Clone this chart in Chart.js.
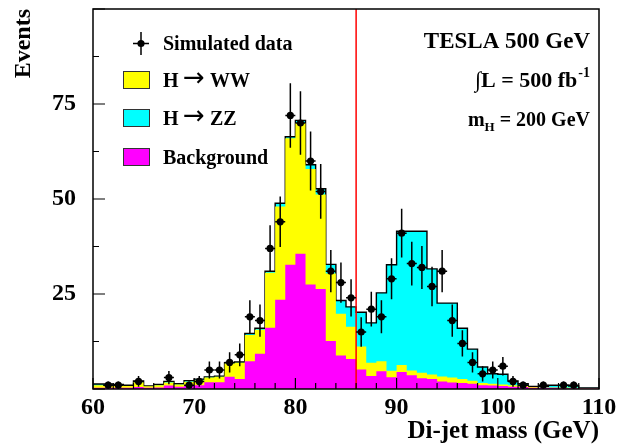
<!DOCTYPE html>
<html>
<head>
<meta charset="utf-8">
<script src="https://cdn.jsdelivr.net/npm/chart.js@4.4.1/dist/chart.umd.min.js"></script>
<style>
  html, body { margin: 0; padding: 0; background: #fff; }
  #wrap { width: 629px; height: 447px; }
</style>
</head>
<body>
<div id="wrap"><canvas id="chart"></canvas></div>
<script>
// histogram binning: 1 GeV bins from 60 to 110
const binLow = 60;
const binWidth = 1;

// events per bin (each process on its own, stacked later)
const background = [0.3, 0.3, 0.3, 0.3, 0.5, 0.3, 0.4, 0.9, 0.6, 0.8,
                    1.0, 1.8, 1.8, 3.2, 2.6, 7.3, 9.3, 16.1, 23.5, 32.7,
                    35.6, 27.5, 26.3, 12.6, 8.8, 7.9, 5.1, 3.4, 4.7, 3.1,
                    4.5, 3.6, 2.8, 2.6, 2.0, 1.7, 1.6, 1.4, 1.0, 0.9,
                    0.8, 0.6, 0.5, 0.3, 0.3, 0.3, 0.2, 0.2, 0.1, 0.1];
const higgsWW = [0.7, 0.7, 0.6, 0.5, 1.3, 0.4, 0.6, 0.8, 0.6, 1.1,
                 1.3, 1.2, 1.4, 3.5, 4.3, 6.9, 6.3, 14.5, 24.5, 33.3,
                 34.4, 30.4, 24.9, 17.8, 11.0, 8.5, 6.1, 3.5, 2.6, 1.7,
                 1.8, 1.3, 1.5, 1.2, 1.3, 1.3, 1.0, 0.8, 0.6, 0.5,
                 0.4, 0.4, 0.3, 0.2, 0.1, 0.1, 0.2, 0.1, 0.1, 0.1];
const higgsZZ = [0.3, 0.3, 0.3, 0.2, 0.3, 0.1, 0.2, 0.3, 0.2, 0.3,
                 0.3, 0.2, 0.2, 0.2, 0.2, 0.4, 0.4, 0.4, 0.9, 0.4,
                 0.7, 1.1, 1.5, 2.4, 3.5, 5.2, 9.0, 10.5, 18.0, 27.9,
                 35.2, 36.6, 37.2, 27.8, 19.3, 19.6, 13.4, 8.3, 4.2, 2.6,
                 2.7, 1.1, 0.6, 0.2, 0.3, 0.6, 0.6, 0.5, 0.1, 0.1];
// simulated data counts (null = empty bin)
const dataCounts = [null, 1, 1, null, 2, null, null, 3, null, 1,
                    2, 5, 5, 7, 9, 19, 18, 37, 44, 72,
                    70, 60, 52, 31, 28, 24, 15, 21, 19, 29,
                    41, 33, 32, 27, 31, 18, 12, 7, 4, 5,
                    6, 2, 1, null, 1, null, 1, 1, null, null];

const xTickValues = [60, 70, 80, 90, 100, 110];
const yTickValues = [25, 50, 75];
const cutMass = 86;

const nBins = background.length;
const edges = Array.from({length: nBins + 1}, (_, i) => binLow + i * binWidth);
const centers = edges.slice(0, nBins).map(e => e + binWidth / 2);

const stackBg = background.slice();
const stackWW = stackBg.map((v, i) => v + higgsWW[i]);
const stackAll = stackWW.map((v, i) => v + higgsZZ[i]);

// one point per bin edge; with stepped 'before' each bin keeps its own level
function histPoints(vals) {
  return edges.map((e, i) => ({x: e, y: vals[Math.min(i, nBins - 1)]}));
}

const serif = size => `bold ${size}px "Liberation Serif", "Times New Roman", serif`;
const colours = {bg: '#ff00ff', ww: '#ffff00', zz: '#00ffff'};

const errorBars = {
  id: 'errorBars',
  afterDatasetsDraw(chart) {
    const {ctx, chartArea, scales: {x, y}} = chart;
    ctx.save();
    // cut line
    ctx.strokeStyle = '#ff0000';
    ctx.lineWidth = 1.5;
    const cx = x.getPixelForValue(cutMass);
    ctx.beginPath();
    ctx.moveTo(cx, chartArea.top);
    ctx.lineTo(cx, chartArea.bottom);
    ctx.stroke();
    // data error bars
    ctx.strokeStyle = '#000';
    ctx.lineWidth = 1.5;
    dataCounts.forEach((n, i) => {
      if (n == null) return;
      const px = x.getPixelForValue(centers[i]);
      const err = Math.sqrt(n);
      ctx.beginPath();
      ctx.moveTo(px, y.getPixelForValue(n + err));
      ctx.lineTo(px, y.getPixelForValue(Math.max(0, n - err)));
      ctx.moveTo(px - 5, y.getPixelForValue(n));
      ctx.lineTo(px + 5, y.getPixelForValue(n));
      ctx.stroke();
    });
    ctx.restore();
  }
};

const frameAndText = {
  id: 'frameAndText',
  afterDraw(chart) {
    const {ctx, chartArea: a, scales: {x, y}} = chart;
    ctx.save();
    ctx.strokeStyle = '#000';
    ctx.lineWidth = 1.5;
    ctx.strokeRect(a.left, a.top, a.right - a.left, a.bottom - a.top);
    // inward ticks
    ctx.lineWidth = 1.2;
    ctx.beginPath();
    for (let v = x.min; v <= x.max; v += 2) {
      const px = x.getPixelForValue(v);
      const len = v % 10 === 0 ? 11 : 6;
      ctx.moveTo(px, a.bottom);
      ctx.lineTo(px, a.bottom - len);
    }
    for (let v = y.min; v <= y.max; v += 12.5) {
      const py = y.getPixelForValue(v);
      const len = v % 25 === 0 ? 12 : 6;
      ctx.moveTo(a.left, py);
      ctx.lineTo(a.left + len, py);
    }
    ctx.stroke();

    // legend
    ctx.fillStyle = '#000';
    ctx.lineWidth = 1.5;
    ctx.beginPath();
    ctx.moveTo(133, 43.5); ctx.lineTo(149, 43.5);
    ctx.moveTo(141, 32); ctx.lineTo(141, 55);
    ctx.stroke();
    ctx.beginPath();
    ctx.arc(141, 43.5, 3.6, 0, Math.PI * 2);
    ctx.fill();

    const entries = [
      {label: 'Background', colour: colours.bg, top: 148},
      {label: 'H \u2192 WW', decay: 'WW', colour: colours.ww, top: 71},
      {label: 'H \u2192 ZZ', decay: 'ZZ', colour: colours.zz, top: 109}
    ];
    ctx.lineWidth = 1;
    ctx.strokeStyle = '#333';
    entries.forEach(e => {
      ctx.fillStyle = e.colour;
      ctx.fillRect(123, e.top, 26, 17);
      ctx.strokeRect(123.5, e.top + 0.5, 26, 17);
    });
    ctx.fillStyle = '#000';
    ctx.textAlign = 'left';
    ctx.textBaseline = 'alphabetic';
    ctx.font = serif(20);
    ctx.fillText('Simulated data', 163, 50);
    entries.forEach(e => {
      const base = e.top + 16;
      if (!e.decay) { ctx.font = serif(20); ctx.fillText(e.label, 163, base); return; }
      ctx.font = serif(20);
      ctx.fillText('H', 163, base);
      ctx.font = '26px "DejaVu Sans", sans-serif';
      ctx.fillText('\u2192', 183, base - 1);
      ctx.font = serif(20);
      ctx.fillText(e.decay, 210, base);
    });

    // top-right labels
    const rx = 590;
    ctx.textAlign = 'right';
    ctx.font = serif(23);
    ctx.fillText('TESLA 500 GeV', rx, 48);

    ctx.font = serif(14);
    const supW = ctx.measureText('-1').width;
    ctx.textAlign = 'left';
    ctx.fillText('-1', rx - supW, 77);
    ctx.font = serif(22);
    ctx.textAlign = 'right';
    ctx.fillText('\u222BL = 500 fb', rx - supW - 1, 87);

    ctx.font = serif(20);
    ctx.fillText(' = 200 GeV', rx, 126);
    const restW = ctx.measureText(' = 200 GeV').width;
    ctx.font = serif(13);
    const subW = ctx.measureText('H').width;
    ctx.fillText('H', rx - restW, 131);
    ctx.font = serif(20);
    ctx.fillText('m', rx - restW - subW, 126);
    ctx.restore();
  }
};

const fillDs = (label, vals, colour, order) => ({
  label: label,
  data: histPoints(vals),
  stepped: 'before',
  fill: 'origin',
  backgroundColor: colour,
  borderColor: 'rgba(0,0,0,0)',
  borderWidth: 0,
  pointRadius: 0,
  order: order
});

const totalDs = fillDs('H \u2192 ZZ', stackAll, colours.zz, 3);
totalDs.borderColor = '#000';
totalDs.borderWidth = 1.4;

const axisFont = size => ({family: '"Liberation Serif", "Times New Roman", serif', weight: 'bold', size: size});

new Chart(document.getElementById('chart'), {
  type: 'line',
  data: {
    datasets: [
      fillDs('Background', stackBg, colours.bg, 1),
      fillDs('H \u2192 WW', stackWW, colours.ww, 2),
      totalDs,
      {
        type: 'scatter',
        label: 'Simulated data',
        data: centers.map((c, i) => ({x: c, y: dataCounts[i]})).filter(p => p.y != null),
        pointRadius: 3.6,
        pointBackgroundColor: '#000',
        pointBorderWidth: 0,
        order: 0
      }
    ]
  },
  options: {
    responsive: true,
    maintainAspectRatio: false,
    animation: false,
    layout: {padding: {top: 9, right: 30}},
    plugins: {legend: {display: false}, tooltip: {enabled: false}},
    scales: {
      x: {
        type: 'linear',
        min: 60,
        max: 110,
        afterBuildTicks: s => { s.ticks = xTickValues.map(v => ({value: v})); },
        afterFit: s => { s.height = 58; s.paddingLeft = 0; s.paddingRight = 0; },
        grid: {display: false, drawTicks: false},
        border: {display: false},
        ticks: {font: axisFont(24), color: '#000', padding: 4, maxRotation: 0},
        title: {display: true, text: 'Di-jet mass (GeV)', align: 'end', color: '#000',
                font: axisFont(25), padding: {top: 0, bottom: 0}}
      },
      y: {
        min: 0,
        max: 100,
        afterBuildTicks: s => { s.ticks = yTickValues.map(v => ({value: v})); },
        afterFit: s => { s.width = 93; s.paddingTop = 0; s.paddingBottom = 0; },
        grid: {display: false, drawTicks: false},
        border: {display: false},
        ticks: {font: axisFont(24), color: '#000', padding: 17},
        title: {display: true, text: 'Events', align: 'end', color: '#000',
                font: axisFont(24), padding: {top: 9, bottom: 0}}
      }
    }
  },
  plugins: [errorBars, frameAndText]
});
</script>
</body>
</html>
